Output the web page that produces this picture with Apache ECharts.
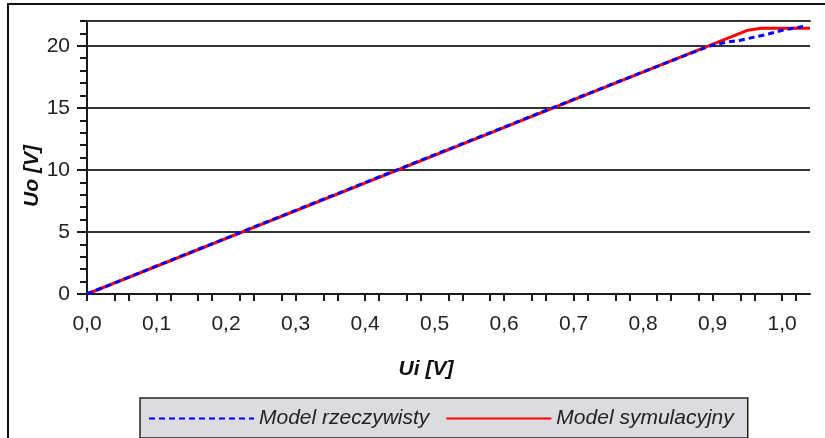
<!DOCTYPE html>
<html>
<head>
<meta charset="utf-8">
<script src="https://cdn.jsdelivr.net/npm/echarts@6/dist/echarts.min.js"></script>
<style>
    html, body { margin: 0; padding: 0; background: #fff; }
    #chart { width: 825px; height: 438px; }
</style>
</head>
<body>
<div id="chart"></div>
<script>
// Model rzeczywisty (pomiar)
var uiReal = [0, 0.05, 0.1, 0.15, 0.2, 0.25, 0.3, 0.35, 0.4, 0.45, 0.5, 0.55, 0.6, 0.65, 0.7, 0.75, 0.8, 0.85, 0.88, 0.9, 0.92, 0.94, 0.96, 0.98, 1.0, 1.03];
var uoReal = [0, 1.13, 2.26, 3.38, 4.5, 5.62, 6.74, 7.86, 8.98, 10.1, 11.22, 12.33, 13.45, 14.57, 15.68, 16.8, 17.9, 19.0, 19.65, 20.05, 20.3, 20.45, 20.7, 20.95, 21.25, 21.55];
// Model symulacyjny
var uiSim = [0, 0.95, 0.97, 1.04];
var uoSim = [0, 21.25, 21.42, 21.42];

var xLabelValues = [0, 0.1, 0.2, 0.3, 0.4, 0.5, 0.6, 0.7, 0.8, 0.9, 1.0];
var xTickValues = [0, 0.04, 0.06, 0.1, 0.12, 0.16, 0.18, 0.22, 0.24, 0.28, 0.3, 0.34, 0.36, 0.4, 0.42, 0.46, 0.48,
    0.52, 0.54, 0.58, 0.6, 0.64, 0.66, 0.7, 0.72, 0.76, 0.78, 0.82, 0.84, 0.88, 0.9, 0.94, 0.96, 1.0, 1.02];
var yLabelValues = [0, 5, 10, 15, 20];
var yMinorTicks = [0, 1, 2, 3, 4, 5, 6, 7, 8, 9, 10, 11, 12, 13, 14, 15, 16, 17, 18, 19, 20, 21, 22];

function pairs(xs, ys) {
    var out = [];
    for (var i = 0; i < xs.length; i++) out.push([xs[i], ys[i]]);
    return out;
}

var font = '"Liberation Sans", Arial, sans-serif';
var chart = echarts.init(document.getElementById('chart'));
chart.setOption({
    animation: false,
    grid: { left: 87, top: 21, right: 15, bottom: 144, containLabel: false },
    xAxis: [{
        type: 'value',
        position: 'bottom',
        min: 0,
        max: 1.04,
        axisLine: { show: true, onZero: false, lineStyle: { color: '#1a1a1a', width: 2 } },
        axisTick: { show: true, length: 7, customValues: xTickValues, lineStyle: { color: '#1a1a1a', width: 2 } },
        axisLabel: {
            customValues: xLabelValues,
            margin: 20,
            color: '#222',
            fontFamily: font,
            fontSize: 21,
            formatter: function (v) { return v.toFixed(1).replace('.', ','); }
        },
        splitLine: { show: false }
    }, {
        type: 'value',
        position: 'top',
        min: 0,
        max: 1.04,
        axisLine: { show: true, onZero: false, lineStyle: { color: '#333', width: 2 } },
        axisTick: { show: false },
        axisLabel: { show: false },
        splitLine: { show: false }
    }],
    yAxis: [{
        type: 'value',
        position: 'left',
        min: 0,
        max: 22,
        interval: 5,
        axisLine: { show: true, onZero: false, lineStyle: { color: '#1a1a1a', width: 2 } },
        axisTick: { show: true, length: 10, customValues: yLabelValues, lineStyle: { color: '#1a1a1a', width: 2 } },
        axisLabel: {
            customValues: yLabelValues,
            margin: 17,
            color: '#222',
            fontFamily: font,
            fontSize: 21
        },
        splitLine: { show: true, lineStyle: { color: '#333', width: 2 } }
    }, {
        type: 'value',
        position: 'left',
        min: 0,
        max: 22,
        axisLine: { show: false },
        axisTick: { show: true, length: 7, customValues: yMinorTicks, lineStyle: { color: '#1a1a1a', width: 2 } },
        axisLabel: { show: false },
        splitLine: { show: false }
    }],
    legend: {
        left: 140,
        top: 398,
        orient: 'horizontal',
        backgroundColor: '#dcdbe0',
        borderColor: '#222',
        borderWidth: 1.5,
        padding: [10, 14, 9, 8],
        itemWidth: 105,
        itemHeight: 14,
        itemGap: 16,
        itemStyle: { opacity: 0 },
        textStyle: { fontFamily: font, fontSize: 21, fontStyle: 'italic', color: '#222' },
        data: ['Model rzeczywisty', 'Model symulacyjny']
    },
    graphic: [{
        type: 'rect',
        shape: { x: 8, y: 4, width: 840, height: 460 },
        style: { fill: 'none', stroke: '#111', lineWidth: 2 },
        silent: true
    }, {
        type: 'text',
        x: 426,
        y: 369,
        style: {
            text: 'Ui [V]', fontFamily: font, fontSize: 21, fontWeight: 'bold', fontStyle: 'italic',
            fill: '#111', align: 'center', verticalAlign: 'middle'
        }
    }, {
        type: 'text',
        x: 32,
        y: 176,
        rotation: Math.PI / 2,
        style: {
            text: 'Uo [V]', fontFamily: font, fontSize: 21, fontWeight: 'bold', fontStyle: 'italic',
            fill: '#111', align: 'center', verticalAlign: 'middle'
        }
    }],
    series: [{
        name: 'Model rzeczywisty',
        type: 'line',
        xAxisIndex: 0,
        yAxisIndex: 0,
        symbol: 'none',
        z: 3,
        lineStyle: { color: '#0000ff', width: 3, type: [6, 4] },
        itemStyle: { color: '#0000ff' },
        data: pairs(uiReal, uoReal)
    }, {
        name: 'Model symulacyjny',
        type: 'line',
        xAxisIndex: 0,
        yAxisIndex: 0,
        symbol: 'none',
        z: 2,
        lineStyle: { color: '#ff0000', width: 3 },
        itemStyle: { color: '#ff0000' },
        data: pairs(uiSim, uoSim)
    }]
});
</script>
</body>
</html>
